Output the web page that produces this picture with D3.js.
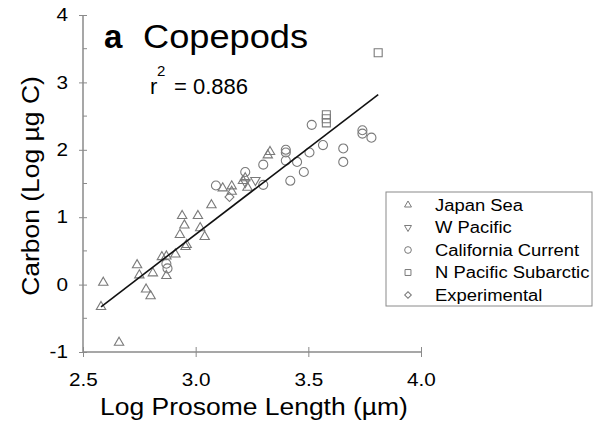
<!DOCTYPE html>
<html>
<head>
<meta charset="utf-8">
<script src="https://cdn.jsdelivr.net/npm/d3@7"></script>
<style>
  body { margin: 0; background: #fff; }
  text { font-family: "Liberation Sans", Arial, sans-serif; fill: #000; }
</style>
</head>
<body>
<div id="chart"></div>
<script>
// Chart size
var svgWidth = 599;
var svgHeight = 428;

var margin = { top: 15, right: 178, bottom: 76, left: 83 };
var chartWidth = svgWidth - margin.left - margin.right;
var chartHeight = svgHeight - margin.top - margin.bottom;

// Data: [log prosome length, log carbon]
var japanSea = [
  [2.59, 0.03], [2.58, -0.33], [2.66, -0.86], [2.74, 0.29], [2.75, 0.14],
  [2.81, 0.17], [2.78, -0.07], [2.80, -0.17], [2.85, 0.41], [2.87, 0.42],
  [2.91, 0.45], [2.87, 0.13], [2.96, 0.59], [2.955, 0.56], [2.94, 1.02],
  [2.95, 0.88], [2.93, 0.74], [3.01, 1.02], [3.02, 0.84], [3.04, 0.71],
  [3.07, 1.18], [3.12, 1.43], [3.16, 1.46], [3.16, 1.38], [3.21, 1.54],
  [3.22, 1.58], [3.23, 1.44], [3.33, 1.97], [3.32, 1.92]
];
var wPacific = [[3.265, 1.55], [3.22, 1.52]];
var californiaCurrent = [
  [2.87, 0.31], [2.875, 0.24], [3.09, 1.47], [3.22, 1.67], [3.30, 1.78],
  [3.30, 1.48], [3.40, 2.00], [3.40, 1.96], [3.40, 1.84], [3.45, 1.82],
  [3.48, 1.67], [3.42, 1.54], [3.505, 1.96], [3.515, 2.37], [3.565, 2.07],
  [3.655, 2.02], [3.655, 1.82], [3.74, 2.29], [3.74, 2.24], [3.78, 2.18]
];
var nPacificSubarctic = [[3.58, 2.52], [3.58, 2.46], [3.58, 2.40], [3.81, 3.44]];
var experimental = [[3.15, 1.30]];

// Regression line end points
var fitLine = [[2.58, -0.33], [3.81, 2.82]];

var seriesNames = ["Japan Sea", "W Pacific", "California Current", "N Pacific Subarctic", "Experimental"];
var seriesData = [japanSea, wPacific, californiaCurrent, nPacificSubarctic, experimental];

var xTicks = [2.5, 3.0, 3.5, 4.0];
var yTicks = [-1, 0, 1, 2, 3, 4];
var yMinorTicks = [-0.5, 0.5, 1.5, 2.5, 3.5];

var svg = d3.select("#chart")
  .append("svg")
  .attr("width", svgWidth)
  .attr("height", svgHeight);

var chartGroup = svg.append("g")
  .attr("transform", `translate(${margin.left}, ${margin.top})`);

var xScale = d3.scaleLinear().domain([2.5, 4.0]).range([0, chartWidth]);
var yScale = d3.scaleLinear().domain([-1, 4]).range([chartHeight, 0]);

var axisColor = "#8a8a8a";
var markColor = "#7a7a7a";

// The original lettering is a bit wider than Liberation Sans
function widen(sel, factor) {
  sel.each(function() {
    var len = this.getComputedTextLength();
    d3.select(this)
      .attr("textLength", len * factor)
      .attr("lengthAdjust", "spacingAndGlyphs");
  });
}

// Symbol generators for each series
function symbolPath(i, size) {
  var types = [d3.symbolTriangle, d3.symbolTriangle, d3.symbolCircle, d3.symbolSquare, d3.symbolSquare];
  return d3.symbol().type(types[i]).size(size)();
}
var symbolRotate = [0, 180, 0, 0, 45];
var symbolSize = [38, 38, 64, 64, 40];

// Y axis
var yAxis = chartGroup.append("g")
  .call(d3.axisLeft(yScale).tickValues(yTicks).tickSize(4).tickFormat(d => String(d)));
yAxis.select(".domain").remove();
yAxis.selectAll(".tick line").attr("x2", 4).attr("x1", -4).attr("stroke", axisColor);
yAxis.selectAll(".tick text")
  .attr("x", -15)
  .style("font-size", "18px")
  .style("font-family", "Liberation Sans, Arial, sans-serif");

chartGroup.append("g")
  .selectAll("line")
  .data(yMinorTicks)
  .enter()
  .append("line")
  .attr("x1", 0)
  .attr("x2", 4)
  .attr("y1", d => yScale(d))
  .attr("y2", d => yScale(d))
  .attr("stroke", axisColor);

chartGroup.append("line")
  .attr("x1", 0).attr("x2", 0)
  .attr("y1", 0).attr("y2", chartHeight)
  .attr("stroke", axisColor)
  .attr("stroke-width", 1.5);

// X axis
var xAxis = chartGroup.append("g")
  .attr("transform", `translate(0, ${chartHeight})`)
  .call(d3.axisBottom(xScale).tickValues(xTicks).tickSize(5).tickFormat(d3.format(".1f")));
xAxis.select(".domain").remove();
xAxis.selectAll(".tick line").attr("y1", -5).attr("y2", 5).attr("stroke", axisColor);
xAxis.selectAll(".tick text")
  .attr("y", 21)
  .style("font-size", "18px")
  .style("font-family", "Liberation Sans, Arial, sans-serif");

chartGroup.append("line")
  .attr("x1", 0).attr("x2", chartWidth)
  .attr("y1", chartHeight).attr("y2", chartHeight)
  .attr("stroke", axisColor)
  .attr("stroke-width", 1.5);

widen(yAxis.selectAll(".tick text"), 1.15);
widen(xAxis.selectAll(".tick text"), 1.15);

// Points
seriesData.forEach(function(data, i) {
  chartGroup.append("g")
    .selectAll("path")
    .data(data)
    .enter()
    .append("path")
    .attr("d", symbolPath(i, symbolSize[i]))
    .attr("transform", d => `translate(${xScale(d[0])}, ${yScale(d[1])}) rotate(${symbolRotate[i]})`)
    .attr("fill", "none")
    .attr("stroke", markColor)
    .attr("stroke-width", 1.1);
});

// Regression line
chartGroup.append("path")
  .datum(fitLine)
  .attr("d", d3.line().x(d => xScale(d[0])).y(d => yScale(d[1])))
  .attr("stroke", "#111")
  .attr("stroke-width", 1.6)
  .attr("fill", "none");

// Title and r squared
svg.append("text")
  .attr("x", 104)
  .attr("y", 48)
  .style("font-size", "33px")
  .style("font-weight", "bold")
  .text("a");
svg.append("text")
  .attr("x", 143)
  .attr("y", 48)
  .attr("textLength", 165)
  .attr("lengthAdjust", "spacingAndGlyphs")
  .style("font-size", "33px")
  .text("Copepods");

svg.append("text").attr("x", 150).attr("y", 94).style("font-size", "22px").text("r");
svg.append("text").attr("x", 157).attr("y", 76).style("font-size", "15px").text("2");
svg.append("text").attr("x", 174).attr("y", 94).style("font-size", "22px").text("= 0.886");

// Axis titles
var xTitle = svg.append("text")
  .attr("x", 254)
  .attr("y", 415)
  .attr("text-anchor", "middle")
  .style("font-size", "23px")
  .text("Log Prosome Length (\u00b5m)");
widen(xTitle, 1.15);

var yTitle = svg.append("text")
  .attr("transform", "translate(39, 186) rotate(-90)")
  .attr("text-anchor", "middle")
  .style("font-size", "23px")
  .text("Carbon (Log \u00b5g C)");
widen(yTitle, 1.15);

// Legend
var legend = svg.append("g");
legend.append("rect")
  .attr("x", 386)
  .attr("y", 192)
  .attr("width", 206)
  .attr("height", 114)
  .attr("fill", "#fff")
  .attr("stroke", axisColor);

var legendRow = d3.scaleLinear().domain([0, 4]).range([205, 295]);
var legendItems = legend.selectAll(".legendItem")
  .data(seriesNames)
  .enter()
  .append("g")
  .attr("transform", (d, i) => `translate(0, ${legendRow(i)})`);

legendItems.append("path")
  .attr("d", (d, i) => symbolPath(i, symbolSize[i] * 0.55))
  .attr("transform", (d, i) => `translate(408, 0) rotate(${symbolRotate[i]})`)
  .attr("fill", "none")
  .attr("stroke", markColor)
  .attr("stroke-width", 1);

var legendText = legendItems.append("text")
  .attr("x", 435)
  .attr("dy", "0.35em")
  .style("font-size", "16px")
  .text(d => d);
widen(legendText, 1.15);
</script>
</body>
</html>
